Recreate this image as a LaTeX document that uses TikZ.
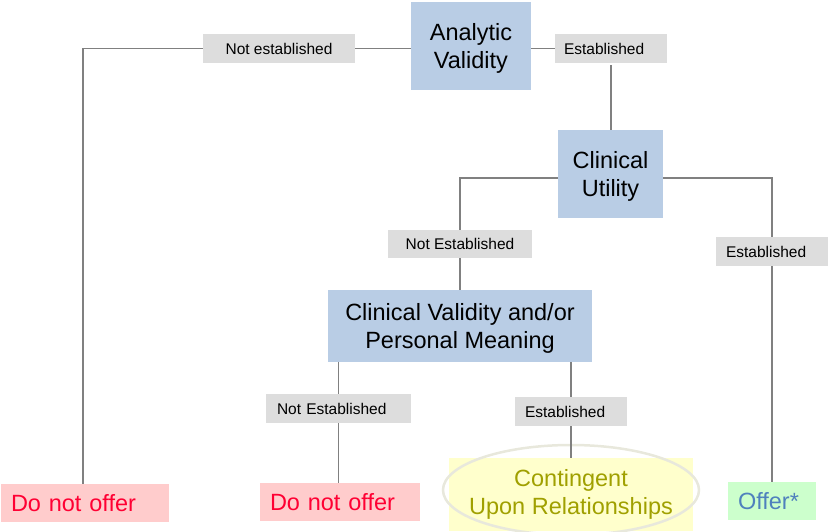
\documentclass[tikz,border=0pt]{standalone}
\usepackage{fontspec}
\setmainfont{Liberation Sans}
\definecolor{boxblue}{HTML}{B9CDE5}
\definecolor{lblgray}{HTML}{DDDDDD}
\definecolor{linegray}{HTML}{808080}
\definecolor{redfill}{HTML}{FFCCCC}
\definecolor{redtext}{HTML}{FF0033}
\definecolor{greenfill}{HTML}{CCFFCC}
\definecolor{bluetext}{HTML}{4F81BD}
\definecolor{yellowfill}{HTML}{FFFFCC}
\definecolor{olivetext}{HTML}{A0A000}
\definecolor{ellgray}{HTML}{E8E8DC}
\tikzset{
  decision/.style={fill=boxblue, inner sep=0pt, align=center, text depth=0pt, font=\fontsize{23.5}{28}\selectfont},
  lbl/.style={fill=lblgray, inner ysep=0pt, minimum height=29pt, font=\fontsize{15.5}{18}\selectfont},
  outcome/.style={inner ysep=0pt, minimum height=38pt, font=\fontsize{23.5}{28}\selectfont},
  conn/.style={draw=linegray, line width=1.7pt},
}
\begin{document}
\begin{tikzpicture}[x=1pt,y=-1pt]
\useasboundingbox (0,0) rectangle (828,531);
% decision boxes
\node[decision, minimum width=120pt, minimum height=88pt] (av) at (471,45.5) {Analytic\\Validity};
\node[decision, minimum width=105pt, minimum height=88pt] (cu) at (610.5,174) {Clinical\\Utility};
\node[decision, minimum width=264pt, minimum height=72pt] (cvpm) at (460,326) {Clinical Validity and/or\\Personal Meaning};
% labels
\node[lbl, minimum width=152pt, inner xsep=0pt] (ne1) at (279,48.5) {Not established};
\node[lbl, text width=94pt, inner xsep=9pt, align=left] (e1) at (611,48.5) {Established};
\node[lbl, minimum width=144pt, inner xsep=0pt, minimum height=28pt] (ne2) at (460,244) {Not Established};
\node[lbl, text width=92pt, inner xsep=10pt, align=left] (e2) at (772,251.5) {Established};
\node[lbl, text width=123pt, inner xsep=11pt, align=left] (ne3) at (338.5,408.5) {Not Established};
\node[lbl, text width=92pt, inner xsep=10pt, align=left] (e3) at (571,411.5) {Established};
% outcomes
\node[outcome, fill=redfill, text=redtext, text width=148pt, inner xsep=10pt, align=left] (dno1) at (85,503) {Do not offer};
\node[outcome, fill=redfill, text=redtext, text width=140pt, inner xsep=10pt, align=left] (dno2) at (340,502) {Do not offer};
\node[outcome, fill=greenfill, text=bluetext, text width=68pt, inner xsep=10pt, align=left] (offer) at (772,501) {Offer*};
\node[fill=yellowfill, minimum width=244pt, minimum height=73pt, inner sep=0pt] (contbox) at (571,494.5) {};
\draw[draw=ellgray, line width=2.5pt] (571,490) ellipse [x radius=128pt, y radius=45pt];
\node[text=olivetext, align=center, inner sep=0pt, text depth=0pt, font=\fontsize{23.5}{28}\selectfont] (cont) at (571,492) {Contingent\\Upon Relationships};
% connectors
\draw[conn] (av.west |- ne1) -- (ne1.east);
\draw[conn] (ne1.west) -| ([xshift=-2pt]dno1.north);
\draw[conn] (av.east |- e1) -- (e1.west);
\draw[conn] ([yshift=-2pt]e1.south) -- (cu.north -| e1);
\draw[conn] ([yshift=-4pt]cu.west) -| (ne2.north);
\draw[conn] (ne2.south) -- (cvpm.north -| ne2);
\draw[conn] ([yshift=-4pt]cu.east) -| (e2.north);
\draw[conn] (e2.south) -- (offer.north -| e2);
\draw[conn] (cvpm.south -| ne3) -- (ne3.north);
\draw[conn] (ne3.south) -- (dno2.north -| ne3);
\draw[conn] (cvpm.south -| e3) -- (e3.north);
\draw[conn] (e3.south) -- (contbox.north -| e3);
\end{tikzpicture}
\end{document}
